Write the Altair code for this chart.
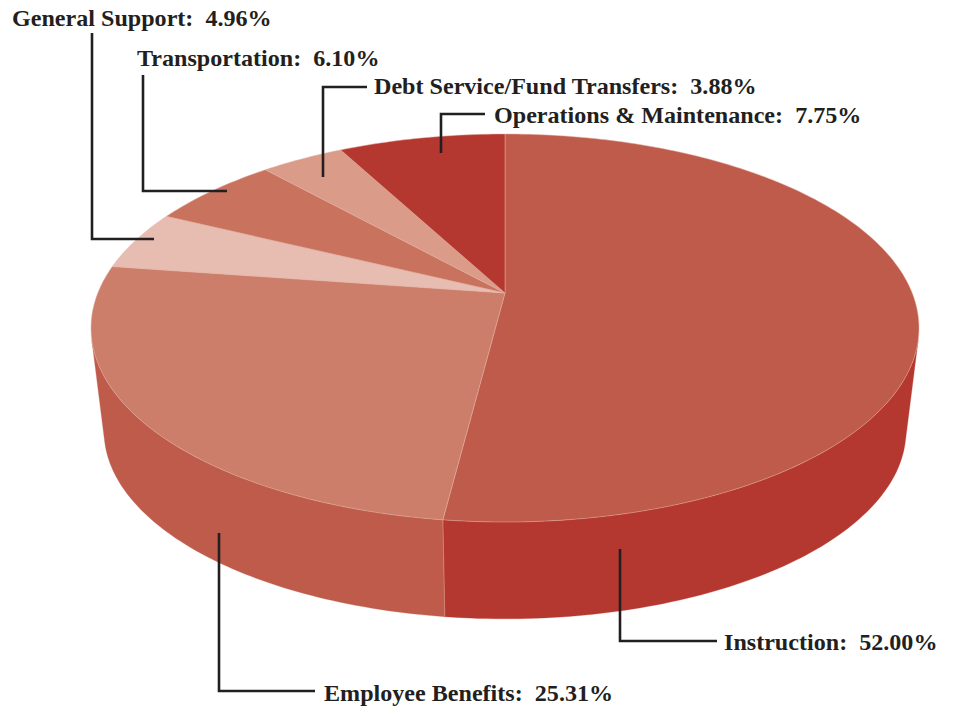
import math
import altair as alt
import pandas as pd

# ---- chart values ----
labels = ["Instruction", "Employee Benefits", "General Support",
          "Transportation", "Debt Service/Fund Transfers", "Operations & Maintenance"]
shares = [52.00, 25.31, 4.96, 6.10, 3.88, 7.75]
top_colors = ["#BF5B4A", "#CD7E6A", "#E6BDB0", "#C9725E", "#DA9B88", "#B53830"]
wall_colors = ["#B53830", "#BF5B4A"]

# label anchors and leader elbows, in reference page pixels
label_x = [724, 324, 12, 137, 374, 494]
label_y = [650, 701, 26, 66, 94, 123]
leader_x = [[620, 620, 717], [219, 219, 315], [92, 92, 154],
            [143, 143, 227], [323, 323, 367], [441, 441, 485]]
leader_y = [[549, 641, 641], [533, 691, 691], [33, 239, 239],
            [75, 191, 191], [177, 87, 87], [153, 114, 114]]

PAGE_W, PAGE_H, MARGIN = 953, 708, 8
TILT = 0.1804
TOP = dict(a=407.2, b=187.7, cy=293.0)
BOTTOM = dict(a=394.4, b=181.8, cy=397.0)
SILHOUETTE = 104.0  # degrees where the wall leaves the rim
CX = 505.0


def rim(theta_deg, p):
    t = math.radians(theta_deg)
    u, v = math.sin(t), math.cos(t)
    d = 1 + TILT * v
    return CX + p["a"] * u / d, p["cy"] - p["b"] * v / d


def arc(a, b, p):
    n = max(2, int(abs(b - a)) + 1)
    return [rim(a + (b - a) * i / n, p) for i in range(n + 1)]


def polygon(name, pts):
    pts = pts + [pts[0]]
    return pd.DataFrame({"shape": name, "seq": range(len(pts)),
                         "x": [q[0] for q in pts], "y": [q[1] for q in pts]})


x_enc = alt.X("x:Q", axis=None, scale=alt.Scale(domain=[MARGIN, PAGE_W - MARGIN], nice=False, zero=False))
y_enc = alt.Y("y:Q", axis=None, scale=alt.Scale(domain=[PAGE_H, MARGIN], nice=False, zero=False))


def shape_layer(df, color, edge, width=0.7):
    return alt.Chart(df).mark_line(fill=color, filled=True, stroke=edge, strokeWidth=width,
                                   strokeJoin="round", clip=False).encode(
        x=x_enc, y=y_enc, order="seq:Q")


cum = [0]
for s in shares:
    cum.append(cum[-1] + s)
angle = [c * 3.6 for c in cum]

layers = []
# side wall
split = angle[1]
wall_spans = [(SILHOUETTE, split), (split, 360 - SILHOUETTE)]
for (a, b), c in zip(wall_spans, wall_colors):
    pts = arc(a, b, TOP) + arc(b, a, BOTTOM)
    layers.append(shape_layer(polygon("wall", pts), c, c, 0.3))
# seam between walls
seam = pd.DataFrame({"x": [rim(split, TOP)[0], rim(split, BOTTOM)[0]],
                     "y": [rim(split, TOP)[1], rim(split, BOTTOM)[1]], "seq": [0, 1]})
layers.append(alt.Chart(seam).mark_line(stroke="#D98D7C", strokeWidth=0.7).encode(x=x_enc, y=y_enc, order="seq:Q"))
# top slices
for i, name in enumerate(labels):
    pts = [(CX, TOP["cy"])] + arc(angle[i], angle[i + 1], TOP)
    layers.append(shape_layer(polygon(name, pts), top_colors[i], "#E3AFA1", 0.5))
# leaders
for i, name in enumerate(labels):
    d = pd.DataFrame({"x": leader_x[i], "y": leader_y[i], "seq": range(3)})
    layers.append(alt.Chart(d).mark_line(stroke="#231F20", strokeWidth=2.6, strokeJoin="miter").encode(
        x=x_enc, y=y_enc, order="seq:Q"))
# labels
text_df = pd.DataFrame({
    "x": label_x, "y": label_y,
    "t": [f"{n}:\u00a0\u00a0{s:.2f}%" for n, s in zip(labels, shares)],
})
layers.append(alt.Chart(text_df).mark_text(
    align="left", baseline="alphabetic", font="Liberation Serif", fontWeight="bold",
    fontSize=24.1, color="#231F20").encode(x=x_enc, y=y_enc, text="t:N"))

chart = alt.layer(*layers).properties(
    width=PAGE_W - 2 * MARGIN, height=PAGE_H - MARGIN, padding=0,
    autosize=alt.AutoSizeParams(type="none"),
).configure_view(stroke=None)

chart.save("out.html", embed_options={"renderer": "svg", "actions": False})
